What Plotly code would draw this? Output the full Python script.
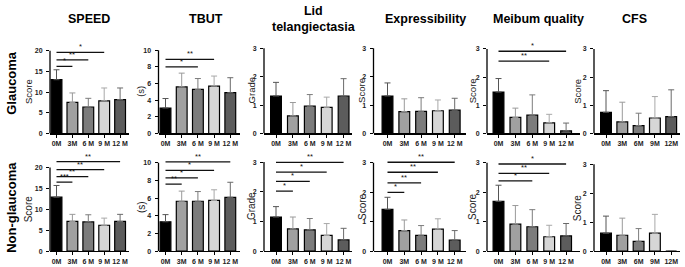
import plotly.graph_objects as go

# ---------------- data ----------------
timepoints = [0, 1, 2, 3, 4]
tick_labels = ["0M", "3M", "6 M", "9 M", "12 M"]
tick_labels_cfs = ["0M", "3M", "6M", "9M", "12M"]

column_titles = ["SPEED", "TBUT", "Lid<br>telangiectasia", "Expressibility", "Meibum quality", "CFS"]
row_titles = ["Glaucoma", "Non-glaucoma"]
y_titles = ["Score", "(s)", "Grade", "Score", "Score", "Score"]
y_ticks = [[0, 5, 10, 15, 20], [0, 2, 4, 6, 8, 10], [0, 1, 2, 3], [0, 1, 2, 3], [0, 1, 2, 3], [0, 1, 2, 3]]

# Glaucoma: means and SD (upper error)
g_speed_mean = [13.0, 7.5, 6.4, 7.9, 8.2]
g_speed_sd = [2.4, 2.3, 2.1, 3.1, 2.8]
g_tbut_mean = [3.06, 5.6, 5.3, 5.7, 4.9]
g_tbut_sd = [1.14, 1.65, 1.3, 1.2, 1.8]
g_lid_mean = [1.32, 0.62, 0.96, 0.92, 1.32]
g_lid_sd = [0.48, 0.47, 0.41, 0.36, 0.61]
g_expr_mean = [1.32, 0.77, 0.78, 0.80, 0.82]
g_expr_sd = [0.46, 0.45, 0.48, 0.38, 0.42]
g_meib_mean = [1.47, 0.57, 0.65, 0.38, 0.09]
g_meib_sd = [0.48, 0.33, 0.72, 0.30, 0.28]
g_cfs_mean = [0.75, 0.41, 0.28, 0.55, 0.60]
g_cfs_sd = [0.77, 0.70, 0.44, 0.76, 0.95]

# Non-glaucoma
n_speed_mean = [12.9, 7.1, 7.0, 6.2, 7.1]
n_speed_sd = [2.8, 1.7, 1.7, 1.7, 1.7]
n_tbut_mean = [3.33, 5.65, 5.65, 5.75, 6.1]
n_tbut_sd = [0.81, 1.15, 1.1, 1.2, 1.7]
n_lid_mean = [1.15, 0.75, 0.72, 0.53, 0.38]
n_lid_sd = [0.35, 0.40, 0.38, 0.40, 0.39]
n_expr_mean = [1.42, 0.70, 0.54, 0.75, 0.38]
n_expr_sd = [0.41, 0.36, 0.33, 0.35, 0.32]
n_meib_mean = [1.69, 0.92, 0.83, 0.49, 0.52]
n_meib_sd = [0.55, 0.63, 0.58, 0.39, 0.42]
n_cfs_mean = [0.62, 0.55, 0.34, 0.62, 0.0]
n_cfs_sd = [0.59, 0.59, 0.44, 0.65, 0.0]

# significance brackets: (target index, bracket height, label), always from 0M
g_speed_sig = [(1, 16.2, "*"), (2, 17.8, "**"), (3, 19.6, "*")]
g_tbut_sig = [(2, 8.0, "*"), (3, 8.9, "**")]
g_meib_sig = [(3, 2.57, "**"), (4, 2.92, "*")]
n_speed_sig = [(1, 16.5, "***"), (2, 17.8, "**"), (3, 19.5, "**"), (4, 21.4, "**")]
n_tbut_sig = [(1, 7.6, "**"), (2, 8.3, "*"), (3, 9.15, "*"), (4, 10.1, "**")]
n_lid_sig = [(1, 2.02, "*"), (2, 2.35, "*"), (3, 2.66, "*"), (4, 2.99, "**")]
n_expr_sig = [(1, 2.0, "*"), (2, 2.32, "**"), (3, 2.68, "**"), (4, 3.02, "**")]
n_meib_sig = [(2, 2.39, "*"), (3, 2.64, "**"), (4, 2.96, "*")]

rows_data = [
    [(g_speed_mean, g_speed_sd, g_speed_sig), (g_tbut_mean, g_tbut_sd, g_tbut_sig),
     (g_lid_mean, g_lid_sd, []), (g_expr_mean, g_expr_sd, []),
     (g_meib_mean, g_meib_sd, g_meib_sig), (g_cfs_mean, g_cfs_sd, [])],
    [(n_speed_mean, n_speed_sd, n_speed_sig), (n_tbut_mean, n_tbut_sd, n_tbut_sig),
     (n_lid_mean, n_lid_sd, n_lid_sig), (n_expr_mean, n_expr_sd, n_expr_sig),
     (n_meib_mean, n_meib_sd, n_meib_sig), (n_cfs_mean, n_cfs_sd, [])],
]

# ---------------- styling / geometry ----------------
W, H = 685, 267
FONT = "Arial, 'Liberation Sans', Helvetica, sans-serif"
bar_colors = ["#000000", "#a0a0a0", "#7c7c7c", "#d6d6d6", "#5c5c5c"]
err_colors = ["#555555", "#9a9a9a", "#7c7c7c", "#a8a8a8", "#6a6a6a"]

# per column: y-axis px, first bar centre px, spacing px, x-axis end px
col_geom = [
    (50.0, 56.5, 15.9, 128.5),
    (158.5, 165.5, 16.2, 240.0),
    (264.0, 276.0, 16.9, 352.0),
    (373.5, 387.5, 16.8, 466.0),
    (487.0, 498.5, 16.9, 580.0),
    (594.0, 606.0, 16.3, 680.0),
]
# y-axis title centre x px per column
ytitle_x_px = [28, 141, 251.5, 362, 472, 577.5]
# per row: zero px, domain-top px, top-tick px per column
row_geom = [
    (134.5, 45.0, [50.5, 50.0, 48.0, 48.0, 48.7, 48.7]),
    (254.0, 156.0, [169.0, 164.3, 163.5, 164.3, 164.3, 165.7]),
]
title_x_px = [89, 205.5, 314, 426, 538, 634]
bar_px = 10.8

fig = go.Figure()
shapes = []
annotations = []
layout_axes = {}

n = 0
for r in range(2):
    zero_px, dtop_px, toptick_px = row_geom[r]
    for c in range(6):
        n += 1
        mean, sd, sig = rows_data[r][c]
        ax_px, c0_px, sp, end_px = col_geom[c]
        xname = "x" if n == 1 else f"x{n}"
        yname = "y" if n == 1 else f"y{n}"
        xkey = "xaxis" if n == 1 else f"xaxis{n}"
        ykey = "yaxis" if n == 1 else f"yaxis{n}"
        ticks = y_ticks[c]
        top = ticks[-1]
        rtop = top * (zero_px - dtop_px) / (zero_px - toptick_px[c])
        xmin = -(c0_px - ax_px) / sp
        xmax = (end_px - c0_px) / sp
        bw = bar_px / sp

        for k in timepoints:
            fig.add_trace(go.Bar(
                x=[k], y=[mean[k]], width=bw,
                marker=dict(color=bar_colors[k], line=dict(color="#000000", width=1.2)),
                error_y=dict(type="data", array=[sd[k]], arrayminus=[0], symmetric=False,
                             color=err_colors[k], thickness=1, width=3),
                xaxis=xname, yaxis=yname, showlegend=False, hoverinfo="skip",
            ))

        layout_axes[xkey] = dict(
            domain=[ax_px / W, end_px / W], range=[xmin, xmax], anchor=yname,
            tickmode="array", tickvals=timepoints,
            ticktext=tick_labels_cfs if c == 5 else tick_labels,
            showline=True, linecolor="#000000", linewidth=1.3,
            ticks="outside", ticklen=3, tickwidth=1, tickcolor="#000000",
            tickfont=dict(family=FONT, size=7, color="#222222", weight="bold"),
            showgrid=False, zeroline=False, fixedrange=True,
        )
        layout_axes[ykey] = dict(
            domain=[1 - zero_px / H, 1 - dtop_px / H], range=[0, rtop], anchor=xname,
            tickmode="array", tickvals=ticks,
            showline=False, ticks="outside", ticklen=3, tickwidth=1, tickcolor="#000000",
            ticklabelstandoff=2,
            tickfont=dict(family=FONT, size=7, color="#222222", weight="bold"),
            showgrid=False, zeroline=False, fixedrange=True,
        )
        # y-axis title, centred on the drawn axis line
        mid_px = (zero_px + toptick_px[c]) / 2
        annotations.append(dict(xref="paper", yref="paper", x=ytitle_x_px[c] / W,
                                y=1 - mid_px / H,
                                text=y_titles[c], textangle=-90, showarrow=False,
                                xanchor="center", yanchor="middle",
                                font=dict(family=FONT, size=9.5 if r == 0 else 10,
                                          color="#222222")))
        # y-axis line up to the top tick
        shapes.append(dict(type="line", xref=f"{xname} domain", yref=yname,
                           x0=0, x1=0, y0=0, y1=top,
                           line=dict(color="#000000", width=1.3)))
        # significance brackets
        for (tgt, h, lab) in sig:
            shapes.append(dict(type="line", xref=xname, yref=yname,
                               x0=0, x1=tgt, y0=h, y1=h,
                               line=dict(color="#111111", width=1.3)))
            annotations.append(dict(xref=xname, yref=yname, x=tgt / 2, y=h,
                                    text=lab, showarrow=False, yanchor="bottom",
                                    yshift=-1,
                                    font=dict(family=FONT, size=7.5, color="#111111")))

for c in range(6):
    annotations.append(dict(xref="paper", yref="paper", x=title_x_px[c] / W,
                            y=1 - 18 / H, text=f"<b>{column_titles[c]}</b>",
                            showarrow=False, xanchor="center", yanchor="middle",
                            font=dict(family=FONT, size=12.5, color="#000000")))

row_y_px = [83, 210]
for r in range(2):
    annotations.append(dict(xref="paper", yref="paper", x=12 / W, y=1 - row_y_px[r] / H,
                            text=f"<b>{row_titles[r]}</b>", textangle=-90,
                            showarrow=False, xanchor="center", yanchor="middle",
                            font=dict(family=FONT, size=13, color="#000000")))

fig.update_layout(
    width=W, height=H, autosize=False,
    margin=dict(l=0, r=0, t=0, b=0),
    paper_bgcolor="#ffffff", plot_bgcolor="#ffffff",
    barmode="overlay", showlegend=False,
    shapes=shapes, annotations=annotations,
    **layout_axes,
)

fig.write_html("out.html", config={"displayModeBar": False, "staticPlot": True},
               post_script="document.body.style.margin='0';document.body.style.overflow='hidden';")
